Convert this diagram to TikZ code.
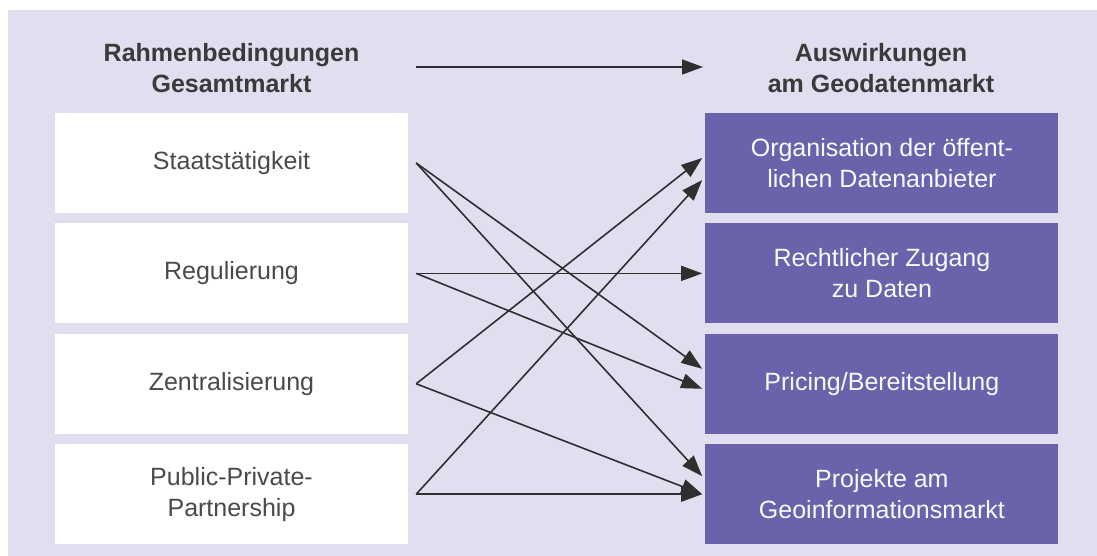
\documentclass[tikz,border=0pt]{standalone}
\usepackage{fontspec}
\setmainfont{Liberation Sans}
\usetikzlibrary{arrows.meta,positioning}

\definecolor{lavender}{HTML}{E1DEF0}
\definecolor{boxpurple}{HTML}{6A62AB}
\definecolor{textgray}{HTML}{4A4A4A}
\definecolor{headgray}{HTML}{3A3A3A}
\definecolor{arrowgray}{HTML}{2F2F2F}

\tikzset{
  basebox/.style={minimum width=353bp, minimum height=100bp, inner sep=0pt,
    align=center, font=\fontsize{25bp}{31bp}\selectfont},
  causebox/.style={basebox, fill=white, text=textgray},
  effectbox/.style={basebox, fill=boxpurple, text=white!95!gray},
  heading/.style={align=center, text=headgray, inner sep=0pt,
    font=\fontsize{25bp}{31bp}\selectfont\bfseries},
  link/.style={draw=arrowgray, line width=1.6bp,
    -{Triangle[length=21bp,width=15bp]}},
}

\begin{document}
\begin{tikzpicture}[x=1bp, y=-1bp]
  % Canvas and background
  \useasboundingbox (0,0) rectangle (1097,556);
  \fill[lavender] (8,10) rectangle (1097,556);

  % Headings
  \node[heading] (hcause) at (231.5,68) {Rahmenbedingungen\\Gesamtmarkt};
  \node[heading] (heffect) at (881,68) {Auswirkungen\\am Geodatenmarkt};

  % Left column: framework conditions
  \node[causebox] (staat) at (231.5,163) {Staatstätigkeit};
  \node[causebox, below=10bp of staat] (regul) {Regulierung};
  \node[causebox, below=10bp of regul] (zentral) {Zentralisierung};
  \node[causebox, below=10bp of zentral] (ppp) {Public-Private-\\Partnership};

  % Right column: effects
  \node[effectbox, right=297bp of staat] (org) {Organisation der öffent-\\lichen Datenanbieter};
  \node[effectbox, right=297bp of regul] (recht) {Rechtlicher Zugang\\zu Daten};
  \node[effectbox, right=297bp of zentral] (pricing) {Pricing/Bereitstellung};
  \node[effectbox, right=297bp of ppp] (projekte) {Projekte am\\Geoinformationsmarkt};

  % Heading arrow
  \coordinate (hstart) at (416,67);
  \coordinate (hend) at (703,67);
  \draw[link] (hstart) -- (hend);

  % Influence arrows
  \foreach \from/\to/\dy in {staat/pricing/15, staat/projekte/18,
      regul/recht/0, regul/pricing/-5, zentral/org/5, zentral/projekte/0,
      ppp/org/-17, ppp/projekte/0} {
    \draw[link] ([xshift=8bp]\from.east) -- ([xshift=-3bp,yshift=\dy bp]\to.west);
  }
\end{tikzpicture}
\end{document}
